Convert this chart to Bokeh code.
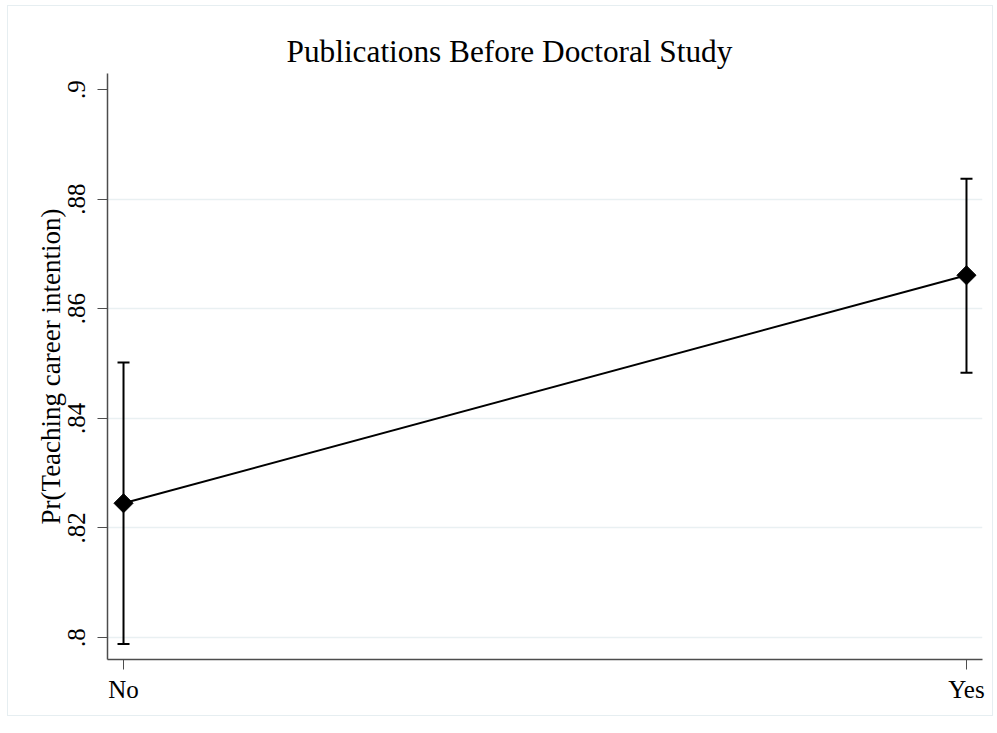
import math
from bokeh.plotting import figure
from bokeh.models import ColumnDataSource, FixedTicker, Range1d, Whisker, TeeHead
from bokeh.embed import file_html
from bokeh.resources import INLINE

# Data
categories = ["No", "Yes"]
cat_pos = [0, 1]
margins = [0.8245, 0.8661]
ci_lower = [0.7988, 0.8483]
ci_upper = [0.8502, 0.8837]
y_ticks = [0.80, 0.82, 0.84, 0.86, 0.88, 0.90]
y_tick_labels = [".8", ".82", ".84", ".86", ".88", ".9"]
grid_ticks = [0.80, 0.82, 0.84, 0.86, 0.88]

FONT = "Liberation Serif"
AXIS_COL = "#4d4d4d"
GRID_COL = "#e9f0f2"

src = ColumnDataSource(dict(x=cat_pos, y=margins, lo=ci_lower, hi=ci_upper))

p = figure(width=986, height=711, output_backend="svg", toolbar_location=None,
           x_range=Range1d(-0.019, 1.019), y_range=Range1d(0.79599, 0.90292),
           min_border_left=99, min_border_right=12, min_border_top=67, min_border_bottom=58,
           title="Publications Before Doctoral Study",
           styles={"border": "1px solid #e6eef1", "margin-left": "7px", "margin-top": "5px"})

p.outline_line_color = None
p.background_fill_color = "white"
p.border_fill_color = "white"

p.title.text_font = FONT
p.title.text_font_size = "31.3px"
p.title.text_font_style = "normal"
p.title.text_color = "black"
p.title.align = "left"
p.title.offset = 179
p.title.standoff = 9

# error bars
wh = Whisker(source=src, base="x", lower="lo", upper="hi", dimension="height",
             line_color="black", line_width=2,
             upper_head=TeeHead(size=12, line_color="black", line_width=2),
             lower_head=TeeHead(size=12, line_color="black", line_width=2))
p.add_layout(wh)

p.line("x", "y", source=src, line_color="black", line_width=2)
p.scatter("x", "y", source=src, marker="square", size=13.5, angle=math.pi / 4,
          fill_color="black", line_color="black")

# axes
p.yaxis.ticker = FixedTicker(ticks=y_ticks)
p.yaxis.major_label_overrides = {t: l for t, l in zip(y_ticks, y_tick_labels)}
p.yaxis.major_label_orientation = "vertical"
p.yaxis.axis_label = "Pr(Teaching career intention)"
p.xaxis.ticker = FixedTicker(ticks=cat_pos)
p.xaxis.major_label_overrides = {t: l for t, l in zip(cat_pos, categories)}

for ax in (p.xaxis, p.yaxis):
    ax.axis_line_color = AXIS_COL
    ax.axis_line_width = 1.5
    ax.major_tick_line_color = AXIS_COL
    ax.major_tick_line_width = 1
    ax.major_tick_out = 10
    ax.major_tick_in = 0
    ax.minor_tick_line_color = None
    ax.major_label_text_font = FONT
    ax.major_label_text_font_size = "25px"
    ax.major_label_text_color = "black"
    ax.axis_label_text_font = FONT
    ax.axis_label_text_font_size = "27px"
    ax.axis_label_text_font_style = "normal"
    ax.axis_label_text_color = "black"

p.yaxis.major_label_standoff = 12
p.yaxis.axis_label_standoff = 0
p.xaxis.major_label_standoff = 6

p.xgrid.visible = False
p.ygrid.ticker = FixedTicker(ticks=grid_ticks)
p.ygrid.grid_line_color = GRID_COL
p.ygrid.grid_line_width = 1.5

open("out.html", "w").write(file_html(p, INLINE))
